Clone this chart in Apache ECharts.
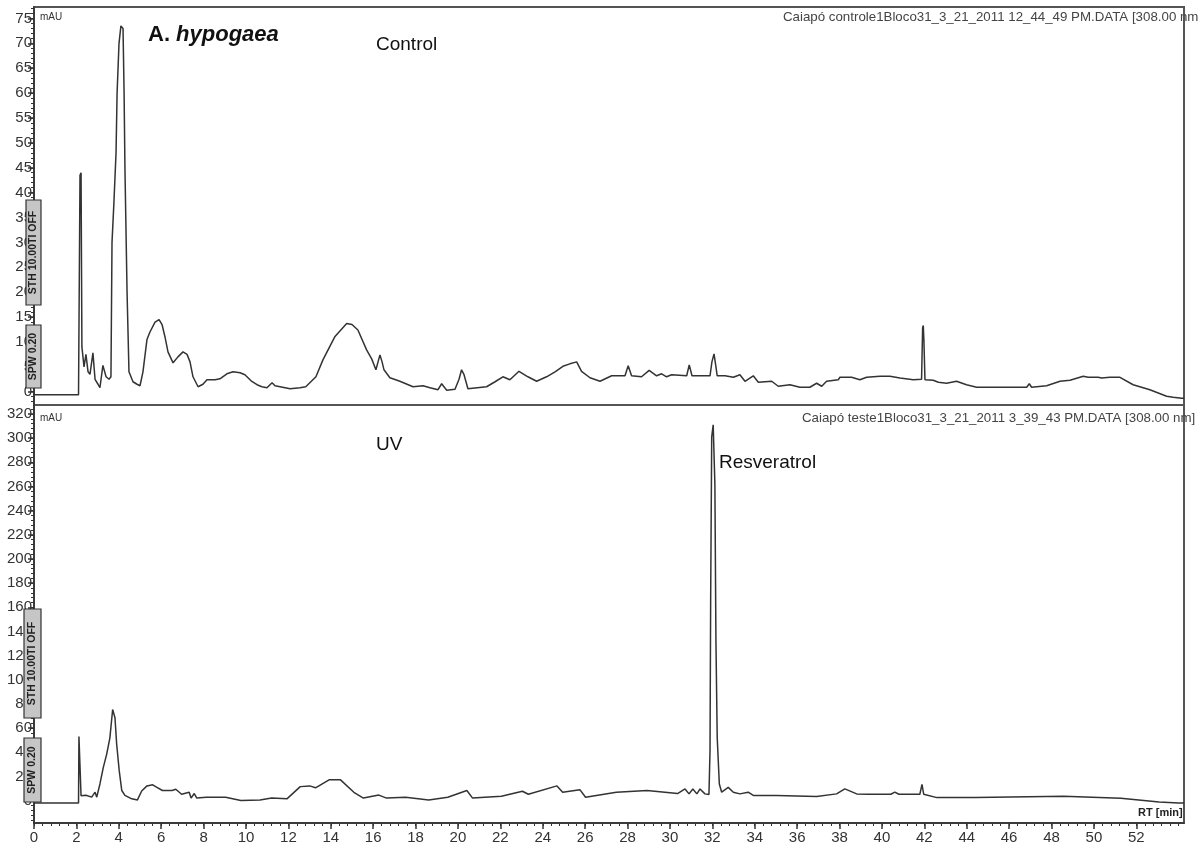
<!DOCTYPE html>
<html><head><meta charset="utf-8">
<script src="https://cdn.jsdelivr.net/npm/echarts@6/dist/echarts.min.js"></script>
<style>html,body{margin:0;padding:0;background:#fff}#c{width:1204px;height:845px}</style>
</head><body><div id="c"></div>
<script>
// ---- data (retention time in min, absorbance in mAU) ----
const controlTime = [0, 2.1, 2.14, 2.17, 2.22, 2.26, 2.36, 2.45, 2.55, 2.64, 2.78, 2.88, 3.02, 3.11, 3.25, 3.4, 3.54, 3.63, 3.68, 3.77, 3.87, 3.92, 4.01, 4.1, 4.2, 4.25, 4.29, 4.39, 4.48, 4.67, 4.86, 5.0, 5.14, 5.33, 5.47, 5.71, 5.9, 6.04, 6.18, 6.32, 6.56, 6.79, 7.03, 7.22, 7.36, 7.5, 7.74, 7.97, 8.16, 8.54, 8.77, 9.1, 9.39, 9.72, 9.95, 10.24, 10.52, 10.75, 10.99, 11.23, 11.37, 11.46, 12.08, 12.55, 12.82, 13.3, 13.63, 14.2, 14.75, 15.0, 15.28, 15.69, 15.93, 16.13, 16.23, 16.32, 16.42, 16.51, 16.79, 17.26, 17.88, 18.35, 18.68, 19.06, 19.23, 19.47, 19.86, 20.05, 20.17, 20.28, 20.47, 21.35, 21.75, 22.12, 22.45, 22.88, 23.3, 23.71, 24.18, 24.58, 24.95, 25.28, 25.6, 25.83, 26.23, 26.7, 27.25, 27.88, 28.03, 28.19, 28.66, 29.02, 29.37, 29.61, 29.84, 30.08, 30.79, 30.91, 31.04, 31.89, 31.98, 32.08, 32.17, 32.23, 32.6, 32.99, 33.3, 33.54, 33.93, 34.17, 34.8, 35.11, 35.66, 36.13, 36.6, 36.92, 37.16, 37.39, 37.94, 38.02, 38.57, 38.96, 39.28, 39.91, 40.38, 40.85, 41.48, 41.87, 41.92, 41.95, 41.98, 42.03, 42.42, 42.66, 43.05, 43.52, 43.99, 44.47, 46.83, 46.95, 47.06, 47.77, 48.4, 48.87, 49.5, 49.73, 50.2, 50.25, 50.36, 50.75, 51.23, 51.85, 52.64, 53.43, 53.74, 54.14, 54.25];
const controlValue = [-0.6, -0.6, -0.6, 43.5, 44, 9, 5, 7.5, 4, 3.5, 7.8, 2.5, 1.5, 0.8, 5.3, 3, 2.5, 3, 30, 38, 48, 60, 70, 73.5, 73, 60, 45, 20, 4, 2, 1.5, 1.2, 4, 10.5, 12, 14, 14.5, 13.5, 11, 8, 5.8, 7, 8, 7.5, 6, 3, 1, 1.5, 2.4, 2.4, 2.6, 3.6, 4, 3.8, 3.4, 2.2, 1.4, 1, 0.8, 1.8, 1.2, 0.8, 0.6, 0.8, 1, 3, 6.4, 11.1, 13.7, 13.5, 12.4, 8.4, 6.6, 4.4, 6, 7.4, 6, 4.4, 2.8, 2.1, 1, 1.2, 0.8, 0.4, 1.6, 0.3, 0.5, 2.5, 4.4, 3.5, 0.6, 1, 2, 3, 2.4, 4.1, 3, 2.1, 3, 4, 5.1, 5.6, 6, 4.1, 2.8, 2.1, 3.2, 3.2, 5.2, 3.2, 3, 4.3, 3.2, 3.6, 3, 3.4, 3.2, 5.4, 3.2, 3.2, 6, 7.6, 5, 3.2, 3.2, 2.9, 3.4, 2.1, 3.2, 1.9, 2.1, 1.1, 1.4, 0.9, 0.9, 1.7, 1.1, 2.1, 2.4, 2.9, 2.9, 2.4, 2.9, 3.1, 3.1, 2.75, 2.4, 2.5, 12.8, 13.3, 10.4, 2.4, 2.3, 1.9, 1.7, 2.1, 1.4, 0.9, 0.9, 1.6, 0.9, 1.2, 2.1, 2.3, 3.1, 2.9, 2.9, 3.3, 2.75, 2.9, 2.9, 1.4, 0.4, -0.9, -1.1, -1.3, -1.3];

const uvTime = [0, 2.1, 2.12, 2.17, 2.22, 2.25, 2.45, 2.72, 2.88, 2.96, 3.11, 3.27, 3.43, 3.58, 3.71, 3.77, 3.82, 3.9, 4.02, 4.14, 4.29, 4.61, 4.88, 5.08, 5.33, 5.6, 5.8, 6.06, 6.51, 6.69, 6.96, 7.32, 7.41, 7.56, 7.68, 8.13, 9.04, 9.76, 10.66, 11.21, 11.93, 12.56, 13.01, 13.28, 13.92, 14.46, 15.09, 15.54, 16.27, 16.63, 17.53, 18.62, 19.52, 20.42, 20.69, 22.05, 23.04, 23.32, 24.67, 24.94, 25.75, 26.02, 27.47, 28.92, 30.36, 30.71, 30.9, 31.08, 31.27, 31.42, 31.65, 31.84, 31.89, 31.92, 31.97, 32.04, 32.12, 32.17, 32.23, 32.33, 32.44, 32.75, 32.99, 33.3, 33.69, 33.93, 35.03, 36.92, 37.86, 38.25, 38.81, 39.34, 40.42, 40.61, 40.8, 41.79, 41.89, 41.97, 42.59, 44.41, 48.57, 51.27, 53.08, 53.99, 54.25];
const uvValue = [-2, -2, 53, 52, 4, 5.6, 4.5, 2.9, 7, 2.9, 13.8, 27.5, 38.5, 52, 75.4, 75.4, 68.6, 46.7, 24.8, 8.4, 4.3, 1.5, 0.6, 8, 12.2, 13.1, 11, 8.4, 8.4, 9.4, 5.3, 6.9, 2.1, 5.9, 2.1, 2.8, 2.8, 0.2, 0.6, 2.1, 1.5, 11.6, 12.2, 10.6, 17.2, 17.2, 6.9, 2.1, 4.6, 2.1, 2.8, 0.6, 2.8, 8.4, 2.1, 3.7, 7.8, 5.3, 12.2, 6.9, 9.1, 2.8, 6.9, 8.4, 5.9, 9.7, 5.6, 9.7, 5.6, 9.7, 5.6, 5, 41, 165, 301, 311, 262, 132, 52, 13.8, 7, 11, 7, 5.6, 7, 4.3, 4.3, 3.5, 5.6, 9.7, 5.6, 5.3, 5.3, 7, 5.3, 5.3, 13.5, 5.3, 2.5, 2.5, 3.7, 2, -1.2, -2, -2];

const controlTicks = [0, 5, 10, 15, 20, 25, 30, 35, 40, 45, 50, 55, 60, 65, 70, 75];
const uvTicks = [0, 20, 40, 60, 80, 100, 120, 140, 160, 180, 200, 220, 240, 260, 280, 300, 320];
const timeTicks = [0, 2, 4, 6, 8, 10, 12, 14, 16, 18, 20, 22, 24, 26, 28, 30, 32, 34, 36, 38, 40, 42, 44, 46, 48, 50, 52];

// ---- helpers ----
function zip(a, b) { return a.map((v, i) => [v, b[i]]); }
function steps(lo, hi, st) { const r = []; for (let v = lo; v <= hi + 1e-9; v += st) r.push(+v.toFixed(3)); return r; }

const lineCol = '#333';
const labelFont = { fontFamily: 'Liberation Sans, Arial, sans-serif', fontSize: 15, color: '#333' };
const XMAX = 54.25;

const chart = echarts.init(document.getElementById('c'), null, { renderer: 'canvas' });

const gridTop = { left: 34, top: 7, width: 1150, height: 398, show: true, borderColor: '#555', borderWidth: 2, backgroundColor: 'transparent' };
const gridBot = { left: 34, top: 405, width: 1150, height: 421, show: true, borderColor: '#555', borderWidth: 2, backgroundColor: 'transparent' };

function yMain(grid, min, max, ticks) {
  return {
    type: 'value', gridIndex: grid, min: min, max: max, position: 'left',
    splitLine: { show: false },
    axisLine: { show: true, onZero: false, lineStyle: { color: '#333', width: 1.5 } },
    axisTick: { show: true, length: 6, customValues: ticks, lineStyle: { color: '#333', width: 1.5 } },
    axisLabel: Object.assign({ show: true, margin: 2, customValues: ticks }, labelFont)
  };
}
function yMinor(grid, min, max, minor) {
  return {
    type: 'value', gridIndex: grid, min: min, max: max, position: 'left',
    splitLine: { show: false },
    axisLine: { show: false, onZero: false },
    axisTick: { show: true, length: 3, customValues: minor, lineStyle: { color: '#333', width: 1 } },
    axisLabel: { show: false }
  };
}

const boxStyle = { fill: '#c6c6c6', stroke: '#333', lineWidth: 1.2 };
const boxFont = 'bold 10.5px Liberation Sans, Arial';

const option = {
  animation: false,
  backgroundColor: '#fff',
  grid: [gridTop, gridBot],
  xAxis: [
    { type: 'value', gridIndex: 0, min: 0, max: XMAX, axisLine: { show: false, onZero: false }, axisTick: { show: false }, axisLabel: { show: false }, splitLine: { show: false } },
    { type: 'value', gridIndex: 1, min: 0, max: XMAX, position: 'bottom',
      splitLine: { show: false },
      axisLine: { show: true, onZero: false, lineStyle: { color: '#333', width: 1.5 } },
      axisTick: { show: true, length: 6, customValues: timeTicks, lineStyle: { color: '#333', width: 1.5 } },
      axisLabel: Object.assign({ show: true, margin: 7, customValues: timeTicks }, labelFont) },
    { type: 'value', gridIndex: 1, min: 0, max: XMAX, position: 'bottom',
      splitLine: { show: false }, axisLine: { show: false, onZero: false },
      axisTick: { show: true, length: 3, customValues: steps(0, 54, 0.4), lineStyle: { color: '#333', width: 1 } },
      axisLabel: { show: false } }
  ],
  yAxis: [
    yMain(0, -2.67, 77.3, controlTicks),
    yMain(1, -18.5, 327.4, uvTicks),
    yMinor(0, -2.67, 77.3, steps(-2, 77, 1)),
    yMinor(1, -18.5, 327.4, steps(-16, 324, 4))
  ],
  series: [
    { type: 'line', xAxisIndex: 0, yAxisIndex: 0, data: zip(controlTime, controlValue), showSymbol: false, symbol: 'none', lineStyle: { color: lineCol, width: 1.5 }, silent: true, z: 3 },
    { type: 'line', xAxisIndex: 1, yAxisIndex: 1, data: zip(uvTime, uvValue), showSymbol: false, symbol: 'none', lineStyle: { color: lineCol, width: 1.5 }, silent: true, z: 3 }
  ],
  graphic: [
    // top panel texts
    { type: 'text', x: 40, y: 12, style: { text: 'mAU', font: '10px Liberation Sans, Arial', fill: '#333' } },
    { type: 'text', x: 148, y: 24, style: { rich: { a: { font: 'bold 22px Liberation Sans, Arial', fill: '#111' }, b: { font: 'italic bold 22px Liberation Sans, Arial', fill: '#111' } }, text: '{a|A. }{b|hypogaea}' } },
    { type: 'text', x: 376, y: 35, style: { text: 'Control', font: '19px Liberation Sans, Arial', fill: '#111' } },
    { type: 'text', x: 783, y: 11, z: 0, style: { text: 'Caiapó controle1Bloco31_3_21_2011 12_44_49 PM.DATA [308.00 nm', font: '13.3px Liberation Sans, Arial', fill: '#444' } },
    // bottom panel texts
    { type: 'text', x: 40, y: 413, style: { text: 'mAU', font: '10px Liberation Sans, Arial', fill: '#333' } },
    { type: 'text', x: 376, y: 435, style: { text: 'UV', font: '19px Liberation Sans, Arial', fill: '#111' } },
    { type: 'text', x: 719, y: 453, style: { text: 'Resveratrol', font: '19px Liberation Sans, Arial', fill: '#111' } },
    { type: 'text', x: 802, y: 412, z: 0, style: { text: 'Caiapó teste1Bloco31_3_21_2011 3_39_43 PM.DATA [308.00 nm]', font: '13.3px Liberation Sans, Arial', fill: '#444' } },
    { type: 'text', x: 1138, y: 807, style: { text: 'RT [min]', font: 'bold 11px Liberation Sans, Arial', fill: '#222' } },
    // parameter boxes (top)
    { type: 'rect', z: 10, shape: { x: 26, y: 200, width: 15, height: 105 }, style: boxStyle },
    { type: 'text', z: 11, x: 33.5, y: 252.5, rotation: Math.PI / 2, style: { text: 'STH 10.00TI OFF', font: boxFont, fill: '#222', align: 'center', verticalAlign: 'middle' } },
    { type: 'rect', z: 10, shape: { x: 26, y: 325, width: 15, height: 63 }, style: boxStyle },
    { type: 'text', z: 11, x: 33.5, y: 356.5, rotation: Math.PI / 2, style: { text: 'SPW 0.20', font: boxFont, fill: '#222', align: 'center', verticalAlign: 'middle' } },
    // parameter boxes (bottom)
    { type: 'rect', z: 10, shape: { x: 24, y: 609, width: 17, height: 109 }, style: boxStyle },
    { type: 'text', z: 11, x: 32.5, y: 663.5, rotation: Math.PI / 2, style: { text: 'STH 10.00TI OFF', font: boxFont, fill: '#222', align: 'center', verticalAlign: 'middle' } },
    { type: 'rect', z: 10, shape: { x: 24, y: 738, width: 17, height: 64 }, style: boxStyle },
    { type: 'text', z: 11, x: 32.5, y: 770, rotation: Math.PI / 2, style: { text: 'SPW 0.20', font: boxFont, fill: '#222', align: 'center', verticalAlign: 'middle' } }
  ]
};
chart.setOption(option);
</script></body></html>
